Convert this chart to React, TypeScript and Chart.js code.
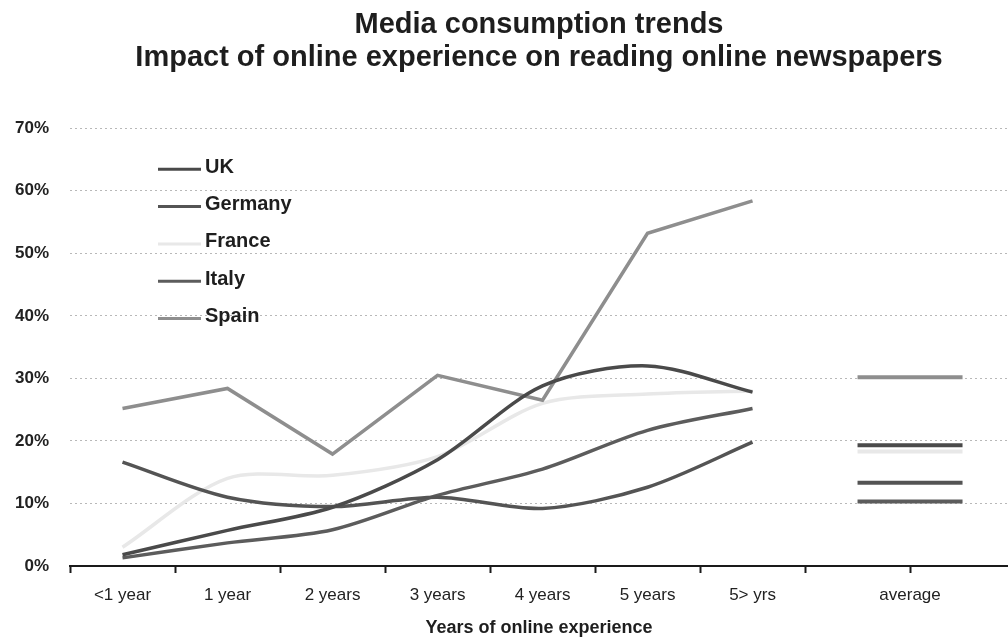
import React, { useEffect, useRef } from 'react';
import { Chart, registerables } from 'chart.js';

Chart.register(...registerables);

const categories = ['<1 year', '1 year', '2 years', '3 years', '4 years', '5 years', '5> yrs'];
const averageLabel = 'average';
const seriesNames = ['UK', 'Germany', 'France', 'Italy', 'Spain'];
const ukValues = [1.8, 5.7, 9.4, 17.0, 28.8, 32.0, 27.8];
const germanyValues = [16.6, 11.0, 9.5, 11.0, 9.2, 12.6, 19.8];
const franceValues = [3.0, 14.0, 14.5, 17.5, 26.0, 27.5, 28.0];
const italyValues = [1.3, 3.7, 5.8, 11.3, 15.5, 21.7, 25.2];
const spainValues = [25.2, 28.4, 17.9, 30.5, 26.5, 53.2, 58.4];
const averageValues = [19.3, 13.3, 18.3, 10.3, 30.2];
const yTickValues = [0, 10, 20, 30, 40, 50, 60, 70];

const seriesValues = [ukValues, germanyValues, franceValues, italyValues, spainValues];
const seriesColors = ['#4a4a4a', '#545454', '#e8e8e8', '#5c5c5c', '#8e8e8e'];
const FONT = '"Liberation Sans", Arial, Helvetica, sans-serif';

// x positions: category centres at 0..6, average segment between 7 and 8, its label on the boundary 7.5
const avgStart = categories.length;
const avgEnd = categories.length + 1;
const avgLabelPos = categories.length + 0.5;
const boundaryTicks: number[] = [];
for (let i = 0; i <= categories.length + 1; i++) boundaryTicks.push(i - 0.5);
const labelTicks: number[] = categories.map((_, i) => i);
const xTickValues = Array.from(new Set([...boundaryTicks, ...labelTicks])).sort((a, b) => a - b);

const isBoundary = (v: number) => Math.abs(v - Math.round(v)) > 0.25;

const insideLegend = {
  id: 'insideLegend',
  afterDatasetsDraw(chart: any) {
    const ctx = chart.ctx;
    const area = chart.chartArea;
    ctx.save();
    ctx.font = `bold 20px ${FONT}`;
    ctx.textBaseline = 'middle';
    ctx.textAlign = 'left';
    seriesNames.forEach((name, i) => {
      const y = area.top + 39 + i * 37.3;
      ctx.strokeStyle = seriesColors[i];
      ctx.lineWidth = 3;
      ctx.beginPath();
      ctx.moveTo(area.left + 88, y + 2);
      ctx.lineTo(area.left + 131, y + 2);
      ctx.stroke();
      ctx.fillStyle = '#1e1e1e';
      ctx.fillText(name, area.left + 135, y);
    });
    ctx.restore();
  },
};

export default function App() {
  const canvasRef = useRef<HTMLCanvasElement | null>(null);

  useEffect(() => {
    if (!canvasRef.current) return;
    const datasets: any[] = [];
    seriesValues.forEach((vals, i) => {
      datasets.push({
        label: seriesNames[i],
        data: vals.map((v, j) => ({ x: j, y: v })),
        borderColor: seriesColors[i],
        backgroundColor: seriesColors[i],
        borderWidth: 3.5,
        pointRadius: 0,
        tension: i === 4 ? 0 : 0.3,
        fill: false,
        order: i === 2 ? 1 : 0,
      });
    });
    averageValues.forEach((v, i) => {
      datasets.push({
        label: seriesNames[i] + ' ' + averageLabel,
        data: [
          { x: avgStart, y: v },
          { x: avgEnd, y: v },
        ],
        borderColor: seriesColors[i],
        backgroundColor: seriesColors[i],
        borderWidth: 4,
        pointRadius: 0,
        tension: 0,
        fill: false,
        order: i === 2 ? 1 : 0,
      });
    });

    const chart = new Chart(canvasRef.current, {
      type: 'line',
      data: { datasets },
      plugins: [insideLegend],
      options: {
        animation: false,
        responsive: false,
        devicePixelRatio: 1,
        events: [],
        layout: { padding: { left: 11, right: 0, top: 0, bottom: 0 } },
        plugins: {
          legend: { display: false },
          tooltip: { enabled: false },
          title: {
            display: true,
            text: 'Media consumption trends',
            fullSize: false,
            color: '#1e1e1e',
            font: { family: FONT, size: 29, weight: 'bold', lineHeight: 1.16 },
            padding: { top: 8, bottom: 0 },
          },
          subtitle: {
            display: true,
            text: 'Impact of online experience on reading online newspapers',
            fullSize: false,
            color: '#1e1e1e',
            font: { family: FONT, size: 29, weight: 'bold', lineHeight: 1.16 },
            padding: { top: 0, bottom: 53 },
          },
        },
        scales: {
          x: {
            type: 'linear',
            min: -0.5,
            max: 8.433,
            afterBuildTicks: (scale: any) => {
              scale.ticks = xTickValues.map((v) => ({ value: v }));
            },
            ticks: {
              autoSkip: false,
              maxRotation: 0,
              minRotation: 0,
              padding: 12,
              color: '#222',
              font: { family: FONT, size: 17 },
              callback: (value: any) => {
                const v = Number(value);
                if (Math.abs(v - avgLabelPos) < 0.01) return averageLabel;
                if (!isBoundary(v) && v >= 0 && v < categories.length) return categories[Math.round(v)];
                return '';
              },
            },
            grid: {
              drawOnChartArea: false,
              drawTicks: true,
              tickLength: 7,
              tickWidth: 2,
              tickColor: (c: any) =>
                c.tick && isBoundary(c.tick.value) ? '#1a1a1a' : 'rgba(0,0,0,0)',
            },
            border: { display: true, color: '#1a1a1a', width: 2 },
            title: {
              display: true,
              text: 'Years of online experience',
              color: '#1e1e1e',
              font: { family: FONT, size: 18, weight: 'bold' },
              padding: { top: 0, bottom: 1 },
            },
          },
          y: {
            type: 'linear',
            min: 0,
            max: 70,
            afterBuildTicks: (scale: any) => {
              scale.ticks = yTickValues.map((v) => ({ value: v }));
            },
            afterFit: (scale: any) => {
              scale.width = 59;
            },
            ticks: {
              crossAlign: 'near',
              padding: 21,
              color: '#222',
              font: { family: FONT, size: 17, weight: 'bold' },
              callback: (value: any) => value + '%',
            },
            grid: { color: '#b8b8b8', lineWidth: 1, drawTicks: false },
            border: { display: false, dash: [2, 3] },
          },
        },
      } as any,
    });
    return () => chart.destroy();
  }, []);

  return (
    <div style={{ position: 'absolute', left: 0, top: 0, width: 1008, height: 640, background: '#fff' }}>
      <canvas ref={canvasRef} width={1008} height={640} />
    </div>
  );
}
